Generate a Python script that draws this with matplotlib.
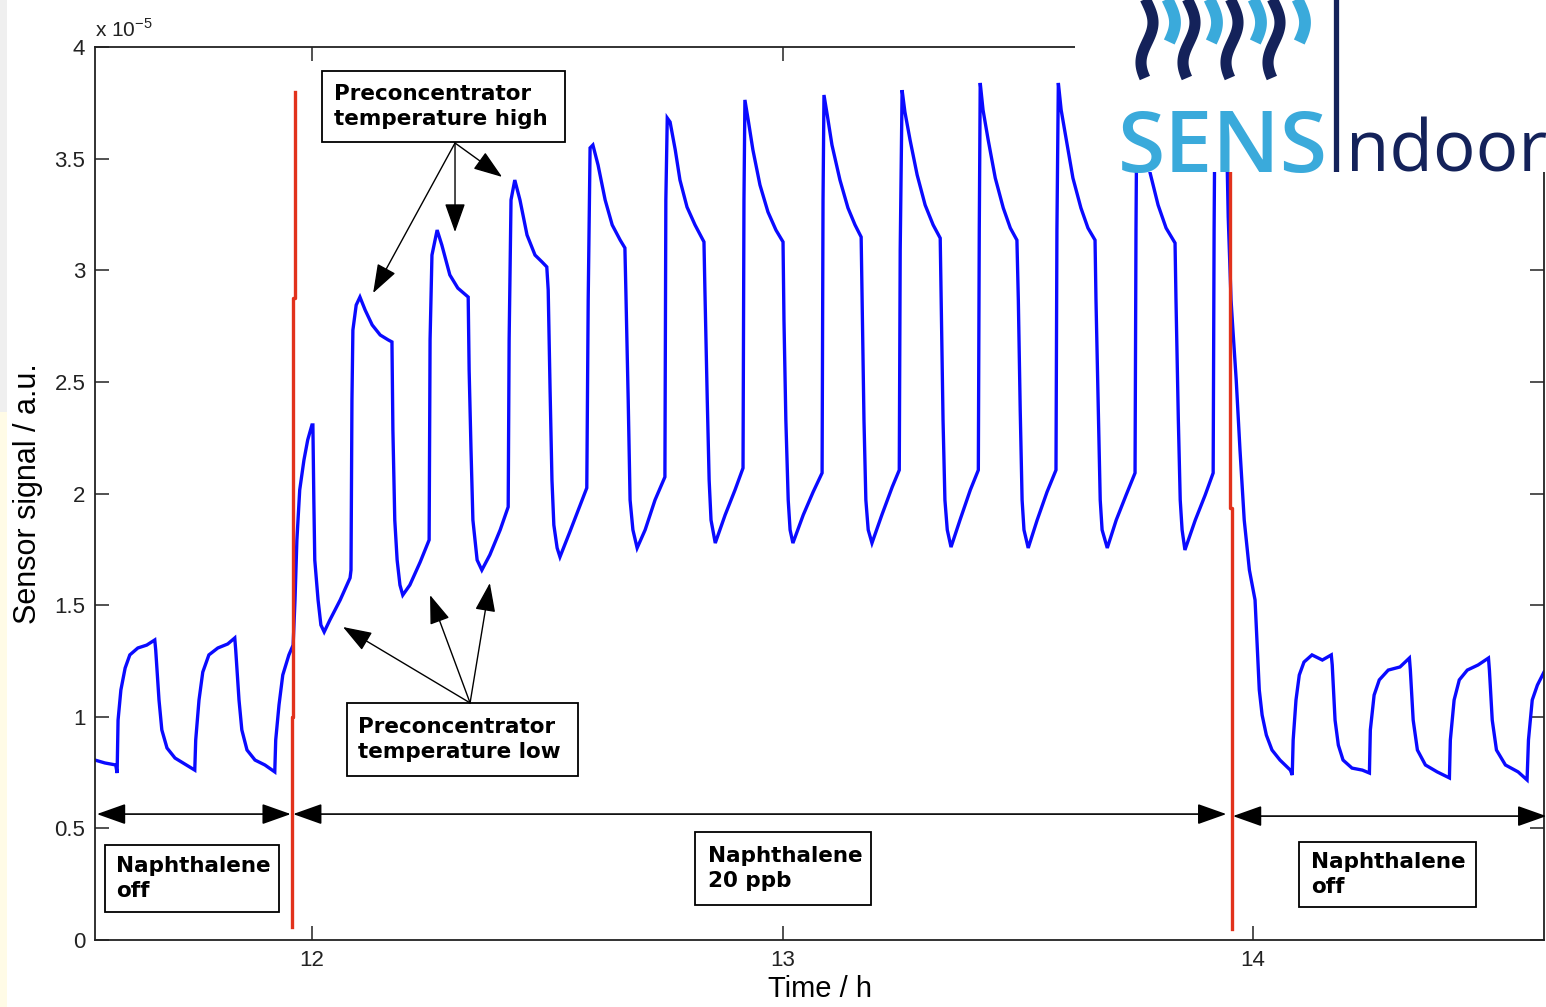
import numpy as np
import matplotlib
matplotlib.use("Agg")
import matplotlib.pyplot as plt
from matplotlib.patches import Rectangle

plt.rcParams['font.family'] = ['Liberation Sans', 'DejaVu Sans']

# ---- sensor trace (time in h, signal in 1e-5 a.u.) ----
# baseline before naphthalene is switched on
BEFORE_T = [11.539, 11.560, 11.583, 11.586, 11.588, 11.594, 11.603, 11.613, 11.630, 11.649,
            11.666, 11.668, 11.675, 11.681, 11.692, 11.709, 11.730, 11.751, 11.753, 11.760,
            11.768, 11.781, 11.800, 11.821, 11.836, 11.838, 11.845, 11.851, 11.862, 11.879,
            11.900, 11.921, 11.923, 11.930, 11.938, 11.951, 11.960]
BEFORE_S = [0.806, 0.793, 0.784, 0.748, 0.985, 1.120, 1.218, 1.277, 1.308, 1.321,
            1.344, 1.299, 1.075, 0.941, 0.860, 0.815, 0.788, 0.761, 0.896, 1.075,
            1.200, 1.277, 1.308, 1.326, 1.353, 1.299, 1.075, 0.941, 0.851, 0.806,
            0.784, 0.753, 0.896, 1.053, 1.187, 1.277, 1.321]

# 20 ppb naphthalene, first cycles
EXPO_A_T = [11.964, 11.968, 11.974, 11.983, 11.991, 12.000, 12.002, 12.004, 12.006, 12.013,
            12.019, 12.026, 12.038, 12.060, 12.081, 12.083, 12.085, 12.087, 12.094, 12.102,
            12.113, 12.128, 12.145, 12.162, 12.170, 12.172, 12.176, 12.181, 12.187, 12.193,
            12.208, 12.230, 12.249, 12.251, 12.255, 12.266, 12.276, 12.293, 12.310, 12.332,
            12.334, 12.338, 12.342, 12.351, 12.361, 12.378, 12.400, 12.417, 12.419, 12.423,
            12.431, 12.442, 12.457, 12.474, 12.489, 12.499, 12.502, 12.506, 12.510, 12.514,
            12.521, 12.527, 12.548, 12.570, 12.584, 12.587, 12.591, 12.597, 12.608, 12.623,
            12.638, 12.655, 12.665]
EXPO_A_S = [1.523, 1.792, 2.016, 2.150, 2.240, 2.307, 2.307, 1.971, 1.702, 1.523,
            1.411, 1.380, 1.433, 1.523, 1.622, 1.657, 2.419, 2.732, 2.844, 2.880,
            2.822, 2.755, 2.710, 2.688, 2.679, 2.284, 1.881, 1.702, 1.590, 1.545,
            1.590, 1.693, 1.792, 2.688, 3.068, 3.180, 3.113, 2.979, 2.920, 2.880,
            2.553, 2.195, 1.881, 1.702, 1.657, 1.725, 1.837, 1.940, 2.688, 3.315,
            3.404, 3.315, 3.158, 3.068, 3.037, 3.015, 2.912, 2.464, 2.060, 1.859,
            1.756, 1.716, 1.828, 1.948, 2.025, 2.867, 3.548, 3.561, 3.471, 3.315,
            3.203, 3.135, 3.100]

# 20 ppb naphthalene, steady cycles
EXPO_B_T = [12.667, 12.672, 12.676, 12.682, 12.691, 12.708, 12.729, 12.750, 12.752, 12.755,
            12.761, 12.772, 12.782, 12.797, 12.814, 12.833, 12.835, 12.840, 12.844, 12.848,
            12.857, 12.878, 12.899, 12.916, 12.918, 12.920, 12.927, 12.937, 12.952, 12.969,
            12.986, 13.001, 13.003, 13.007, 13.012, 13.016, 13.022, 13.044, 13.065, 13.084,
            13.086, 13.088, 13.095, 13.105, 13.122, 13.139, 13.154, 13.167, 13.169, 13.173,
            13.177, 13.182, 13.190, 13.211, 13.233, 13.248, 13.250, 13.254, 13.260, 13.271,
            13.286, 13.303, 13.320, 13.335, 13.337, 13.341, 13.345, 13.350, 13.358, 13.377,
            13.399, 13.416, 13.418, 13.420, 13.426, 13.437, 13.452, 13.469, 13.484, 13.498,
            13.501, 13.505, 13.509, 13.513, 13.522, 13.541, 13.562, 13.581, 13.583, 13.586,
            13.592, 13.603, 13.617, 13.634, 13.649, 13.664, 13.666, 13.671, 13.675, 13.679,
            13.690, 13.709, 13.730, 13.749, 13.751, 13.753, 13.760, 13.770, 13.781, 13.798,
            13.815, 13.834, 13.836, 13.841, 13.845, 13.849, 13.855, 13.877, 13.898, 13.915,
            13.917, 13.919, 13.926, 13.934, 13.945, 13.947]
EXPO_B_S = [2.912, 2.419, 1.971, 1.837, 1.756, 1.837, 1.971, 2.074, 3.315, 3.682,
            3.664, 3.539, 3.404, 3.283, 3.203, 3.127, 2.912, 2.419, 2.060, 1.881,
            1.778, 1.904, 2.016, 2.114, 3.315, 3.763, 3.673, 3.539, 3.382, 3.261,
            3.180, 3.127, 2.777, 2.329, 1.971, 1.837, 1.778, 1.904, 2.007, 2.092,
            3.315, 3.785, 3.695, 3.561, 3.404, 3.279, 3.203, 3.149, 2.867, 2.329,
            1.971, 1.837, 1.778, 1.904, 2.029, 2.105, 3.091, 3.807, 3.709, 3.583,
            3.427, 3.292, 3.203, 3.144, 2.867, 2.329, 1.971, 1.837, 1.760, 1.881,
            2.016, 2.105, 3.180, 3.839, 3.718, 3.583, 3.413, 3.279, 3.189, 3.135,
            2.867, 2.374, 1.971, 1.837, 1.756, 1.881, 2.007, 2.105, 3.180, 3.839,
            3.718, 3.583, 3.413, 3.279, 3.189, 3.135, 2.867, 2.374, 1.971, 1.837,
            1.756, 1.881, 1.993, 2.092, 3.180, 3.807, 3.709, 3.583, 3.436, 3.292,
            3.189, 3.122, 2.867, 2.329, 1.971, 1.837, 1.747, 1.881, 1.993, 2.092,
            3.180, 3.807, 3.709, 3.583, 3.449, 3.239]

# naphthalene off again
AFTER_T = [13.953, 13.957, 13.964, 13.972, 13.981, 13.992, 14.004, 14.009, 14.013, 14.019,
           14.028, 14.040, 14.057, 14.079, 14.083, 14.085, 14.091, 14.098, 14.108, 14.125,
           14.147, 14.166, 14.168, 14.174, 14.181, 14.191, 14.210, 14.232, 14.247, 14.249,
           14.257, 14.268, 14.287, 14.312, 14.332, 14.334, 14.340, 14.349, 14.366, 14.391,
           14.417, 14.419, 14.427, 14.438, 14.455, 14.478, 14.500, 14.502, 14.508, 14.517,
           14.536, 14.563, 14.582, 14.585, 14.593, 14.604, 14.618]
AFTER_S = [2.867, 2.732, 2.508, 2.195, 1.881, 1.657, 1.523, 1.299, 1.120, 1.008,
           0.918, 0.851, 0.806, 0.761, 0.739, 0.896, 1.075, 1.187, 1.245, 1.277,
           1.254, 1.277, 1.232, 0.985, 0.873, 0.806, 0.770, 0.761, 0.748, 0.941,
           1.097, 1.165, 1.209, 1.223, 1.263, 1.209, 0.985, 0.851, 0.784, 0.753,
           0.726, 0.896, 1.075, 1.165, 1.209, 1.232, 1.263, 1.209, 0.985, 0.851,
           0.784, 0.753, 0.717, 0.896, 1.075, 1.142, 1.200]

# red markers where the naphthalene source was switched
RED1_T = [11.964, 11.964, 11.960, 11.960, 11.958, 11.958]
RED1_S = [3.80, 2.876, 2.876, 0.999, 0.999, 0.058]
RED2_T = [13.951, 13.951, 13.955, 13.955]
RED2_S = [3.80, 1.935, 1.935, 0.049]

# phase arrows (start, end, height)
PHASES = [(11.543, 11.955, 0.564), (11.960, 13.943, 0.564), (13.957, 14.623, 0.555)]

# text boxes: (x0, x1, y0, y1, text x, text)
BOXES = [
    (12.021, 12.538, 3.574, 3.893, 12.047, 'Preconcentrator\ntemperature high'),
    (12.074, 12.565, 0.735, 1.062, 12.098, 'Preconcentrator\ntemperature low'),
    (11.560, 11.930, 0.125, 0.426, 11.583, 'Naphthalene\noff'),
    (12.814, 13.188, 0.157, 0.484, 12.842, 'Naphthalene\n20 ppb'),
    (14.098, 14.474, 0.148, 0.439, 14.123, 'Naphthalene\noff'),
]
HIGH_TAIL = (12.304, 3.570)
HIGH_HEADS = [(12.130, 2.898), (12.304, 3.171), (12.404, 3.418)]
LOW_TAIL = (12.336, 1.062)
LOW_HEADS = [(12.066, 1.402), (12.251, 1.545), (12.378, 1.599)]

W, H = 1546, 1007
fig = plt.figure(figsize=(W / 100, H / 100), dpi=100)
fig.patch.set_facecolor('white')

# thin strip on the left edge
fig.add_artist(Rectangle((0, 1 - 412 / H), 7 / W, 412 / H, transform=fig.transFigure,
                         color='#efefef', lw=0, zorder=0))
fig.add_artist(Rectangle((0, 0), 7 / W, 1 - 412 / H, transform=fig.transFigure,
                         color='#fffbe6', lw=0, zorder=0))

ax = fig.add_axes([95 / W, 1 - 940 / H, (1544 - 95) / W, (940 - 47) / H])

t = np.concatenate([BEFORE_T, EXPO_A_T, EXPO_B_T, AFTER_T])
s = np.concatenate([BEFORE_S, EXPO_A_S, EXPO_B_S, AFTER_S])
ax.plot(t, s, color='#0a0aff', lw=2.4, solid_joinstyle='miter', zorder=2)

ax.plot(RED1_T, RED1_S, color='#e2321c', lw=2.4, zorder=3)
ax.plot(RED2_T, RED2_S, color='#e2321c', lw=2.4, zorder=3)

ax.set_xlim(11.539, 14.618)
ax.set_ylim(0, 4)
ax.set_xticks([12, 13, 14])
ax.set_yticks(np.arange(0, 4.01, 0.5))
ax.yaxis.set_major_formatter(matplotlib.ticker.FormatStrFormatter('%g'))
ax.tick_params(direction='in', length=10, width=1.1, top=True, right=True,
               labelsize=16, pad=7, colors='#222222')
for sp in ax.spines.values():
    sp.set_linewidth(1.3)
    sp.set_color('#222222')

ax.set_xlabel('Time / h', fontsize=21, labelpad=3)
ax.set_ylabel('Sensor signal / a.u.', fontsize=22, labelpad=8)
ax.text(0.0, 1.011, r'x 10$^{\mathregular{-5}}$', transform=ax.transAxes,
        fontsize=15, ha='left', va='baseline', color='#222222')

# annotation boxes
for x0, x1, y0, y1, tx, label in BOXES:
    ax.add_patch(Rectangle((x0, y0), x1 - x0, y1 - y0, facecolor='white',
                           edgecolor='black', lw=1.3, zorder=4))
    ax.text(tx, (y0 + y1) / 2, label, fontsize=15.5, fontweight='bold',
            family='DejaVu Sans', ha='left', va='center', linespacing=1.3, zorder=5)

arrow_head = '-|>,head_length=0.9,head_width=0.32'
for tail, heads in [(HIGH_TAIL, HIGH_HEADS), (LOW_TAIL, LOW_HEADS)]:
    for head in heads:
        ax.annotate('', xy=head, xytext=tail,
                    arrowprops=dict(arrowstyle=arrow_head, color='black', lw=1.0,
                                    shrinkA=0, shrinkB=0, mutation_scale=20),
                    zorder=5)

for start, end, y in PHASES:
    ax.annotate('', xy=(end, y), xytext=(start, y), annotation_clip=False,
                arrowprops=dict(arrowstyle='<|-|>,head_length=0.9,head_width=0.32',
                                color='black', lw=1.2, shrinkA=0, shrinkB=0,
                                mutation_scale=20),
                zorder=5)

# logo in the upper right corner, laid out in pixel units
lx0, ly1 = 1075, 172
logo = fig.add_axes([lx0 / W, 1 - ly1 / H, (W - lx0) / W, ly1 / H], zorder=10)
logo.set_xlim(lx0, W)
logo.set_ylim(ly1, 0)
logo.set_xticks([])
logo.set_yticks([])
for sp in logo.spines.values():
    sp.set_visible(False)
logo.set_facecolor('white')

navy = '#14225a'
light = '#3aaadb'
yy = np.linspace(-6, 78, 60)
for xc in [1147, 1189, 1232, 1274]:
    logo.plot(xc + 6 * np.sin(2 * np.pi * yy / 80 - 0.2), yy, color=navy, lw=8,
              solid_capstyle='butt')
yy2 = np.linspace(-6, 42, 40)
for xc in [1169, 1211, 1255, 1299]:
    logo.plot(xc + 6 * np.sin(2 * np.pi * yy2 / 80 - 0.2), yy2, color=light, lw=8.5,
              solid_capstyle='butt')
logo.plot([1335.5, 1335.5], [-2, 172], color=navy, lw=3.8, solid_capstyle='butt')
logo.text(1118, 172, 'SENS', color=light, fontsize=62, fontweight='semibold',
          family='Open Sans', ha='left', va='baseline')
logo.text(1346, 172, 'ndoor', color=navy, fontsize=51, family='Open Sans',
          ha='left', va='baseline')

fig.savefig('out.png', dpi=100)
